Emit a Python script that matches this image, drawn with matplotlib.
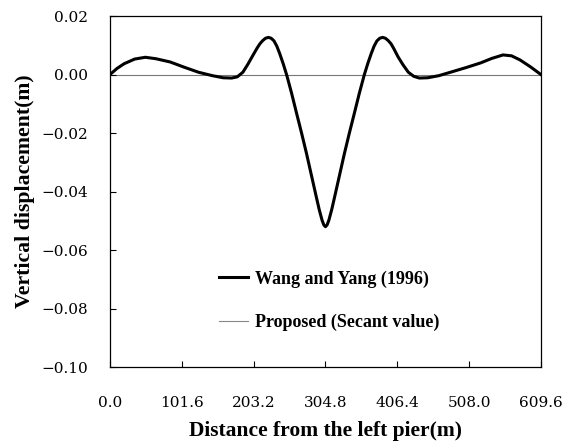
import matplotlib
matplotlib.use("Agg")
import matplotlib.pyplot as plt

# distance from the left pier (m) and vertical displacement (m)
dist = [0, 10, 20, 35, 50, 65, 85, 105, 125, 145, 160, 172, 180, 188, 195, 202, 208, 212,
        216, 220, 224, 228, 232, 236, 240, 245, 250, 257, 264, 271, 278, 285, 292, 296,
        300, 302.5, 304.8, 307.1, 309.6, 313.6, 317.6, 324.6, 331.6, 338.6, 345.6, 352.6,
        359.6, 364.6, 369.6, 373.6, 377.6, 381.6, 385.6, 389.6, 393.6, 397.6, 401.6, 407.6,
        414.6, 422, 429.6, 437.6, 449.6, 465, 484.6, 504, 524.6, 540, 556, 568, 580, 595,
        609.6]
wang_yang = [0, 0.0021, 0.0037, 0.0053, 0.0059, 0.0054, 0.0043, 0.0025, 0.0008, -0.0004,
             -0.0011, -0.0012, -0.0008, 0.0008, 0.0035, 0.0065, 0.0090, 0.0105,
             0.0116, 0.0124, 0.0127, 0.0124, 0.0115, 0.0097, 0.0072, 0.0037, -0.0002,
             -0.0065, -0.0133, -0.0200, -0.0270, -0.0345, -0.0420, -0.0462,
             -0.0498, -0.0514, -0.0520, -0.0514, -0.0498, -0.0462, -0.0420, -0.0345, -0.0270,
             -0.0200, -0.0133, -0.0065,
             -0.0002, 0.0037, 0.0072, 0.0097, 0.0115, 0.0124, 0.0127, 0.0124, 0.0116, 0.0105,
             0.0088, 0.0060,
             0.0033, 0.0008, -0.0006, -0.0012, -0.0011, -0.0004, 0.0010, 0.0024, 0.0040,
             0.0055, 0.0067, 0.0064, 0.0050, 0.0026, 0]
proposed = wang_yang

xticks = [0.0, 101.6, 203.2, 304.8, 406.4, 508.0, 609.6]
yticks = [-0.10, -0.08, -0.06, -0.04, -0.02, 0.00, 0.02]

fig = plt.figure(figsize=(5.73, 4.45), dpi=100)
ax = fig.add_axes([0.192, 0.175, 0.752, 0.789])

ax.axhline(0, color='#777777', lw=0.8, zorder=1)
ax.plot(dist, proposed, color='#888888', lw=0.8, label='Proposed (Secant value)', zorder=2)
ax.plot(dist, wang_yang, color='black', lw=2.2, label='Wang and Yang (1996)', zorder=3)

ax.set_xlim(0, 609.6)
ax.set_ylim(-0.10, 0.02)
ax.set_xticks(xticks)
ax.set_xticklabels([f'{v:.1f}' for v in xticks])
ax.set_yticks(yticks)
ax.set_yticklabels([f'{v:.2f}'.replace('-', '\u2212') for v in yticks])

for lab in ax.get_xticklabels() + ax.get_yticklabels():
    lab.set_fontfamily('DejaVu Serif')
    lab.set_fontsize(11)
ax.tick_params(direction='in', length=4, width=0.8)
ax.tick_params(axis='x', pad=21)
ax.tick_params(axis='y', pad=16)

ax.set_xlabel('Distance from the left pier(m)', fontfamily='Liberation Serif',
              fontweight='bold', fontsize=15.5, labelpad=8)
ax.set_ylabel('Vertical displacement(m)', fontfamily='Liberation Serif',
              fontweight='bold', fontsize=15.7, labelpad=4)

for s in ax.spines.values():
    s.set_linewidth(0.9)

handles, labels = ax.get_legend_handles_labels()
leg = ax.legend(handles[::-1], labels[::-1], loc='upper left', bbox_to_anchor=(0.215, 0.322),
                frameon=False, handlelength=1.6, handletextpad=0.4, labelspacing=1.45,
                prop={'family': 'Liberation Serif', 'weight': 'bold', 'size': 13})

fig.savefig('out.png', dpi=100)
